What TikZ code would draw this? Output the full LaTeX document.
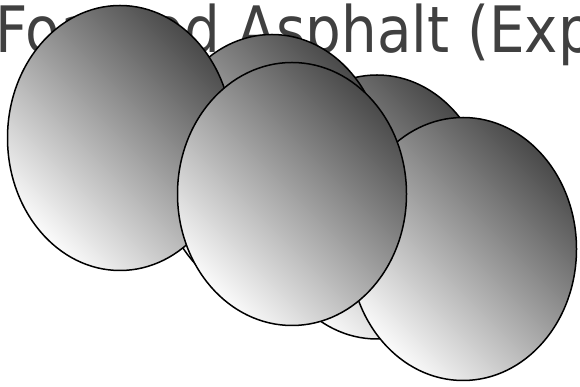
\documentclass[tikz,border=0pt]{standalone}
\usepackage{fontspec}
\usetikzlibrary{shapes.geometric}
\newfontfamily\titlefont[FakeStretch=0.88]{DejaVu Sans}
\definecolor{titlegray}{RGB}{64,64,64}
\definecolor{balldark}{RGB}{74,74,74}
\definecolor{balllight}{RGB}{250,250,250}
\tikzset{
  ball/.style={ellipse, draw=black, line width=1.5pt, inner sep=0pt, outer sep=0pt,
    top color=balldark, bottom color=balllight, shading angle=-45},
  titletext/.style={anchor=base west, inner sep=0pt, text=titlegray,
    font=\titlefont\fontsize{64}{64}\selectfont}
}
\begin{document}
\begin{tikzpicture}[x=1pt,y=1pt]
\useasboundingbox (0,0) rectangle (580,387);
\begin{scope}
\clip (0,0) rectangle (580,387);
\node[titletext] (title) at (-5,334) {Foamed Asphalt (Exp};
\node[ball, minimum width=225pt, minimum height=264pt] (e3) at (377,180) {};
\node[ball, minimum width=225pt, minimum height=265pt] (e2) at (272,220) {};
\node[ball, minimum width=225pt, minimum height=265pt] (e1) at (120,249) {};
\node[ball, minimum width=227pt, minimum height=263pt] (e5) at (463,138) {};
\node[ball, minimum width=229pt, minimum height=263pt] (e4) at (292,193) {};
\end{scope}
\end{tikzpicture}
\end{document}
